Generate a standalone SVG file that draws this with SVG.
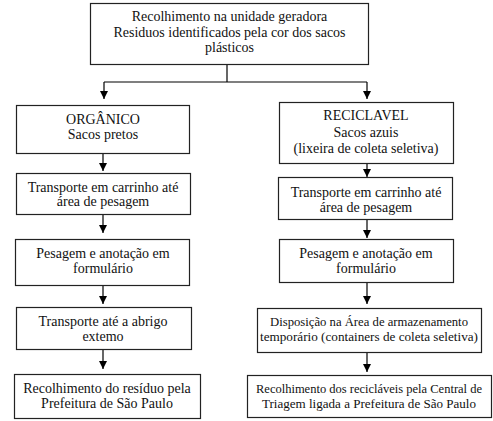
<svg xmlns="http://www.w3.org/2000/svg" width="493" height="421" viewBox="0 0 493 421">
<defs>
<marker id="ah" viewBox="0 0 10 10" refX="10" refY="5" markerWidth="9" markerHeight="8" markerUnits="userSpaceOnUse" orient="auto">
<path d="M0,0 L10,5 L0,10 z" fill="#000"/>
</marker>
<style>
rect{fill:#fff;stroke:#222;stroke-width:1.2}
text{font-family:"Liberation Serif","Times New Roman",serif;font-size:14px;fill:#111;text-anchor:middle}
.s{font-size:13px}
.c{stroke:#000;stroke-width:1.2;fill:none}
.a{marker-end:url(#ah)}
</style>
</defs>
<rect x="0" y="0" width="493" height="421" style="fill:#fff;stroke:none"/>
<g id="connectors">
<path class="c" d="M227,64 V82"/>
<path class="c" d="M104,82 H367"/>
<path class="c a" d="M104,82 V99"/>
<path class="c a" d="M367,82 V99"/>
<path class="c a" d="M103,153 V171"/>
<path class="c a" d="M103,214 V233"/>
<path class="c a" d="M103,285 V304"/>
<path class="c a" d="M103,349 V369"/>
<path class="c a" d="M367,163 V177"/>
<path class="c a" d="M367,219 V238"/>
<path class="c a" d="M367,282 V304"/>
<path class="c a" d="M367,352 V372"/>
</g>
<g id="top">
<rect x="90.5" y="3.5" width="278" height="61"/>
<text x="229.5" y="21">Recolhimento na unidade geradora</text>
<text x="229.5" y="37">Residuos identificados pela cor dos sacos</text>
<text x="229.5" y="52">plásticos</text>
</g>
<g id="org1">
<rect x="16.5" y="105.5" width="173" height="48"/>
<text x="103" y="124">ORGÂNICO</text>
<text x="103" y="139">Sacos pretos</text>
</g>
<g id="org2">
<rect x="16.5" y="173.5" width="174" height="41"/>
<text x="103" y="192">Transporte em carrinho até</text>
<text x="103" y="206">área de pesagem</text>
</g>
<g id="org3">
<rect x="15.5" y="239.5" width="174" height="46"/>
<text x="103" y="258">Pesagem e anotação em</text>
<text x="103" y="273">formulário</text>
</g>
<g id="org4">
<rect x="16.5" y="307.5" width="175" height="42"/>
<text x="103" y="326">Transporte até a abrigo</text>
<text x="103" y="341">extemo</text>
</g>
<g id="org5">
<rect x="14.5" y="374.5" width="186" height="44"/>
<text x="107" y="393">Recolhimento do resíduo pela</text>
<text x="107" y="408">Prefeitura de São Paulo</text>
</g>
<g id="rec1">
<rect x="279.5" y="102.5" width="174" height="61"/>
<text x="366" y="120">RECICLAVEL</text>
<text x="366" y="137">Sacos azuis</text>
<text x="366" y="153">(lixeira de coleta seletiva)</text>
</g>
<g id="rec2">
<rect x="278.5" y="177.5" width="174" height="42"/>
<text x="366" y="197">Transporte em carrinho até</text>
<text x="366" y="212">área de pesagem</text>
</g>
<g id="rec3">
<rect x="279.5" y="239.5" width="174" height="43"/>
<text x="366" y="258">Pesagem e anotação em</text>
<text x="366" y="273">formulário</text>
</g>
<g id="rec4">
<rect x="257.5" y="308.5" width="224" height="44"/>
<text class="s" x="369" y="326" textLength="198" lengthAdjust="spacingAndGlyphs">Disposição na Área de armazenamento</text>
<text class="s" x="369" y="341" textLength="218" lengthAdjust="spacingAndGlyphs">temporário (containers de coleta seletiva)</text>
</g>
<g id="rec5">
<rect x="247.5" y="375.5" width="244" height="42"/>
<text class="s" x="369" y="393" textLength="226" lengthAdjust="spacingAndGlyphs">Recolhimento dos recicláveis pela Central de</text>
<text class="s" x="369" y="408" textLength="214" lengthAdjust="spacingAndGlyphs">Triagem ligada a Prefeitura de São Paulo</text>
</g>
</svg>
